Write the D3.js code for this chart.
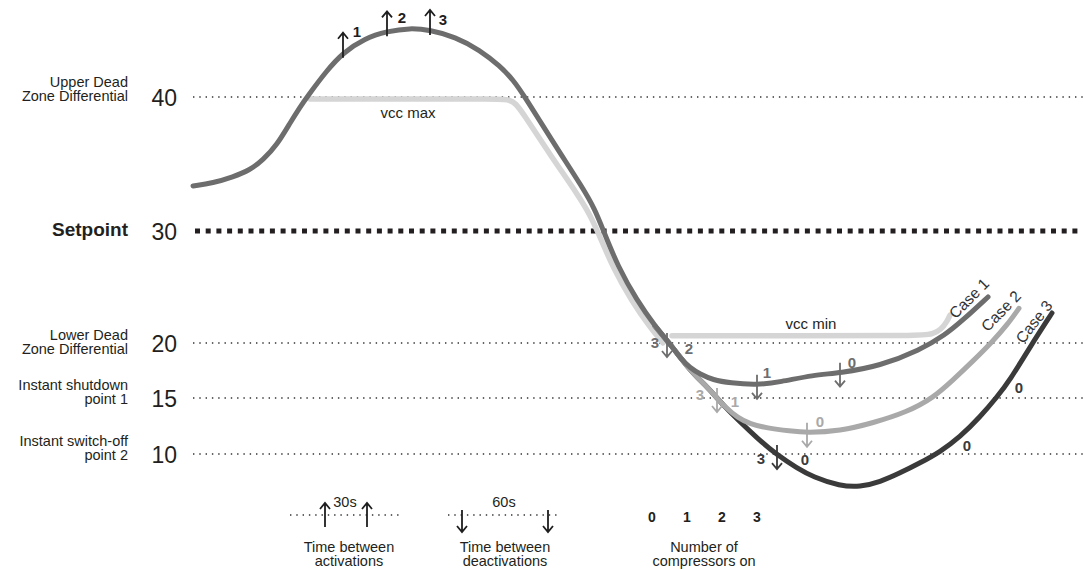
<!DOCTYPE html>
<html>
<head>
<meta charset="utf-8">
<script src="https://cdn.jsdelivr.net/npm/d3@7"></script>
<style>
  body { margin: 0; background: #fff; }
  svg { display: block; font-family: 'Liberation Sans', Arial, Helvetica, sans-serif; }
</style>
</head>
<body>
<svg id="chart"></svg>
<script>
// temperature levels and their names
const levels = [40, 30, 20, 15, 10];
const levelNames = [
  ['Upper Dead', 'Zone Differential'],
  ['Setpoint'],
  ['Lower Dead', 'Zone Differential'],
  ['Instant shutdown', 'point 1'],
  ['Instant switch-off', 'point 2'],
];

// curves, [time, temperature]
const mainCurve = [
  [0, 33.36], [20, 33.58], [40, 34.03], [57, 34.55], [70, 35.3], [84, 36.42],
  [97, 38.06], [107, 39.25], [114, 40.0], [134, 42.0], [150, 43.3], [172, 44.4],
  [194, 44.9], [217, 45.15], [237, 45.0], [262, 44.5], [287, 43.5], [307, 42.3],
  [320, 41.3], [332, 40.0], [362, 36.4], [390, 33.2], [402, 31.6], [410, 30.1],
  [425, 26.8], [444, 23.8], [462, 21.5], [479, 19.7],
];
const case1 = [
  [487, 18.64], [497, 17.73], [507, 17.18], [520, 16.64], [537, 16.36], [564, 16.18],
  [587, 16.45], [620, 17.09], [647, 17.27], [687, 17.91], [727, 19.36], [752, 20.71],
  [770, 22.05], [795, 24.11],
];
const case2 = [
  [497, 17.5], [512, 16.2], [524, 15.0], [532, 14.2], [545, 13.21], [557, 12.68],
  [574, 12.32], [597, 12.05], [614, 11.9], [647, 12.05], [680, 12.77], [714, 13.75],
  [740, 15.0], [760, 16.64], [780, 18.36], [800, 20.18], [814, 21.6], [826, 23.1],
];
const case3 = [
  [497, 17.5], [512, 16.2], [524, 15.0], [532, 14.2], [545, 13.04], [564, 11.43],
  [584, 9.91], [604, 8.75], [620, 7.95], [647, 7.14], [667, 7.05], [687, 7.5],
  [707, 8.3], [727, 9.2], [747, 10.18], [767, 11.52], [787, 13.3], [804, 15.09],
  [817, 16.64], [837, 19.64], [859, 22.68],
];
const vccMax = [
  [117, 39.85], [207, 39.85], [307, 39.85], [316, 39.8], [323, 39.5], [329, 38.9],
  [357, 35.7], [385, 32.7], [397, 31.2], [405, 29.9], [420, 26.7], [439, 23.7],
  [457, 21.4], [470, 20.0],
];
const vccMin = [
  [479, 20.65], [607, 20.65], [727, 20.65], [740, 20.8], [748, 21.2], [754, 21.9],
  [757, 22.5],
];

// compressor switching arrows, on the curve [time, temperature]
const upArrows = [[150, 43.3], [194, 44.9], [237, 45.0]];
const downArrows = [
  { series: 'main', t: 474, v: 20.0 },
  { series: 'case1', t: 564, v: 16.2 },
  { series: 'case1', t: 647, v: 17.3 },
  { series: 'case2', t: 524, v: 15.0 },
  { series: 'case2', t: 614, v: 11.9 },
  { series: 'case3', t: 584, v: 9.9 },
];

// number of compressors running
const countLabels = [
  { text: '1', series: 'top', t: 164, v: 44.5 },
  { text: '2', series: 'top', t: 209, v: 45.5 },
  { text: '3', series: 'top', t: 250, v: 45.4 },
  { text: '3', series: 'main', t: 462, v: 19.55 },
  { text: '2', series: 'main', t: 496, v: 19.0 },
  { text: '1', series: 'case1', t: 574, v: 16.8 },
  { text: '0', series: 'case1', t: 659, v: 17.7 },
  { text: '3', series: 'case2', t: 507, v: 14.8 },
  { text: '1', series: 'case2', t: 542, v: 14.2 },
  { text: '0', series: 'case2', t: 627, v: 12.4 },
  { text: '3', series: 'case3', t: 568, v: 9.1 },
  { text: '0', series: 'case3', t: 612, v: 9.0 },
  { text: '0', series: 'case3', t: 774, v: 10.3 },
  { text: '0', series: 'case3', t: 826, v: 15.5 },
];
const curveNames = [
  { text: 'vcc max', t: 215, v: 38.43 },
  { text: 'vcc min', t: 618, v: 21.25 },
];
const caseNames = [
  { text: 'Case 1', t: 776, v: 24.0 },
  { text: 'Case 2', t: 808, v: 22.86 },
  { text: 'Case 3', t: 841, v: 21.9 },
];
const compressorCounts = ['0', '1', '2', '3'];

var width = 1083;
var height = 570;

var colors = {
  top: '#1e1e1e',
  main: '#6d6d6d',
  case1: '#6d6d6d',
  case2: '#a9a9a9',
  case3: '#3a3a3a',
  vcc: '#d5d5d5',
};

var x = d3.scaleLinear().domain([0, 890]).range([193, 1083]);
// the drawing is not to scale, so the axis is piecewise
var y = d3.scaleLinear().domain([10, 15, 20, 30, 40]).range([454, 398, 343, 231, 97]);

var svg = d3.select('#chart').attr('width', width).attr('height', height);

var line = d3
  .line()
  .x(function (d) {
    return x(d[0]);
  })
  .y(function (d) {
    return y(d[1]);
  })
  .curve(d3.curveBasis);

// reference lines
svg
  .append('g')
  .selectAll('line')
  .data(levels)
  .enter()
  .append('line')
  .attr('x1', function (d) {
    return d === 30 ? x.range()[0] + 2 : x.range()[0];
  })
  .attr('x2', x.range()[1])
  .attr('y1', function (d) {
    return y(d);
  })
  .attr('y2', function (d) {
    return y(d);
  })
  .attr('stroke', function (d) {
    return d === 30 ? '#231f20' : '#333';
  })
  .attr('stroke-width', function (d) {
    return d === 30 ? 5 : 1.4;
  })
  .attr('stroke-dasharray', function (d) {
    return d === 30 ? '5,5.7' : '1.4,4.9';
  });

// level numbers
svg
  .append('g')
  .selectAll('text')
  .data(levels)
  .enter()
  .append('text')
  .attr('x', 177)
  .attr('y', function (d) {
    return y(d) + 8.5;
  })
  .attr('text-anchor', 'end')
  .style('font-size', '23px')
  .style('fill', '#231f20')
  .text(function (d) {
    return d;
  });

// level names
var firstLineOffset = [-10, 5, -3, -8, -8];
var names = svg
  .append('g')
  .selectAll('text')
  .data(levelNames)
  .enter()
  .append('text')
  .attr('text-anchor', 'end')
  .style('fill', '#231f20')
  .style('font-size', function (d, i) {
    return i === 1 ? '19px' : '14.5px';
  })
  .style('font-weight', function (d, i) {
    return i === 1 ? 'bold' : 'normal';
  });

names.each(function (d, i) {
  var base = y(levels[i]) + firstLineOffset[i];
  d3.select(this)
    .selectAll('tspan')
    .data(d)
    .enter()
    .append('tspan')
    .attr('x', 128)
    .attr('y', function (s, j) {
      return base + j * 14;
    })
    .text(function (s) {
      return s;
    });
});

// curves, lightest first
var curves = svg.append('g').attr('fill', 'none').attr('stroke-linecap', 'round');

curves.append('path').attr('d', line(vccMax)).attr('stroke', colors.vcc).attr('stroke-width', 5.5);
curves.append('path').attr('d', line(vccMin)).attr('stroke', colors.vcc).attr('stroke-width', 5.5);
curves
  .append('path')
  .attr('d', line(mainCurve.slice(-2).concat(case3)))
  .attr('stroke', colors.case3)
  .attr('stroke-width', 5);
curves
  .append('path')
  .attr('d', line(mainCurve.slice(-2).concat(case2)))
  .attr('stroke', colors.case2)
  .attr('stroke-width', 5);
curves
  .append('path')
  .attr('d', line(mainCurve.concat(case1)))
  .attr('stroke', colors.main)
  .attr('stroke-width', 5);

function arrowPath(px, from, tip) {
  var dir = tip < from ? 1 : -1;
  return (
    'M' + px + ',' + from + 'V' + tip +
    'M' + (px - 5) + ',' + (tip + dir * 6) +
    'L' + px + ',' + tip +
    'L' + (px + 5) + ',' + (tip + dir * 6)
  );
}

var arrows = svg.append('g').attr('fill', 'none').attr('stroke-width', 1.8);

arrows
  .selectAll('path.up')
  .data(upArrows)
  .enter()
  .append('path')
  .attr('class', 'up')
  .attr('stroke', colors.top)
  .attr('d', function (d) {
    return arrowPath(x(d[0]), y(d[1]) + 5, y(d[1]) - 20);
  });

arrows
  .selectAll('path.down')
  .data(downArrows)
  .enter()
  .append('path')
  .attr('class', 'down')
  .attr('stroke', function (d) {
    return colors[d.series];
  })
  .attr('d', function (d) {
    return arrowPath(x(d.t), y(d.v) - 10, y(d.v) + 14);
  });

svg
  .append('g')
  .selectAll('text')
  .data(countLabels)
  .enter()
  .append('text')
  .attr('x', function (d) {
    return x(d.t);
  })
  .attr('y', function (d) {
    return y(d.v);
  })
  .attr('text-anchor', 'middle')
  .style('font-size', '15px')
  .style('font-weight', 'bold')
  .style('fill', function (d) {
    return colors[d.series];
  })
  .text(function (d) {
    return d.text;
  });

svg
  .append('g')
  .selectAll('text')
  .data(curveNames)
  .enter()
  .append('text')
  .attr('x', function (d) {
    return x(d.t);
  })
  .attr('y', function (d) {
    return y(d.v);
  })
  .attr('text-anchor', 'middle')
  .style('font-size', '15px')
  .style('fill', '#231f20')
  .text(function (d) {
    return d.text;
  });

var caseAngles = [-45, -46, -52];
svg
  .append('g')
  .selectAll('text')
  .data(caseNames)
  .enter()
  .append('text')
  .attr('transform', function (d, i) {
    return 'translate(' + x(d.t) + ',' + y(d.v) + ') rotate(' + caseAngles[i] + ')';
  })
  .attr('dy', '0.35em')
  .attr('text-anchor', 'middle')
  .style('font-size', '15.5px')
  .style('fill', '#333')
  .text(function (d) {
    return d.text;
  });

// legend at the bottom
var legend = svg.append('g').style('fill', '#231f20').style('font-size', '14.5px');

function legendLine(x1, x2) {
  legend
    .append('line')
    .attr('x1', x1)
    .attr('x2', x2)
    .attr('y1', 515)
    .attr('y2', 515)
    .attr('stroke', '#333')
    .attr('stroke-width', 1.4)
    .attr('stroke-dasharray', '1.4,4.9');
}

function legendText(cx, lines, top) {
  legend
    .append('text')
    .attr('text-anchor', 'middle')
    .selectAll('tspan')
    .data(lines)
    .enter()
    .append('tspan')
    .attr('x', cx)
    .attr('y', function (d, i) {
      return top + i * 14;
    })
    .text(function (d) {
      return d;
    });
}

legendLine(290, 402);
[325, 367].forEach(function (px) {
  legend
    .append('path')
    .attr('d', arrowPath(px, 527, 503))
    .attr('fill', 'none')
    .attr('stroke', '#1e1e1e')
    .attr('stroke-width', 1.8);
});
legendText(345, ['30s'], 507);
legendText(349, ['Time between', 'activations'], 552);

legendLine(448, 560);
[462, 548].forEach(function (px) {
  legend
    .append('path')
    .attr('d', arrowPath(px, 510, 532))
    .attr('fill', 'none')
    .attr('stroke', '#1e1e1e')
    .attr('stroke-width', 1.8);
});
legendText(504, ['60s'], 507);
legendText(505, ['Time between', 'deactivations'], 552);

legend
  .append('g')
  .selectAll('text')
  .data(compressorCounts)
  .enter()
  .append('text')
  .attr('x', function (d, i) {
    return 652 + i * 35;
  })
  .attr('y', 522)
  .attr('text-anchor', 'middle')
  .style('font-weight', 'bold')
  .style('font-size', '14px')
  .text(function (d) {
    return d;
  });
legendText(704, ['Number of', 'compressors on'], 552);
</script>
</body>
</html>
